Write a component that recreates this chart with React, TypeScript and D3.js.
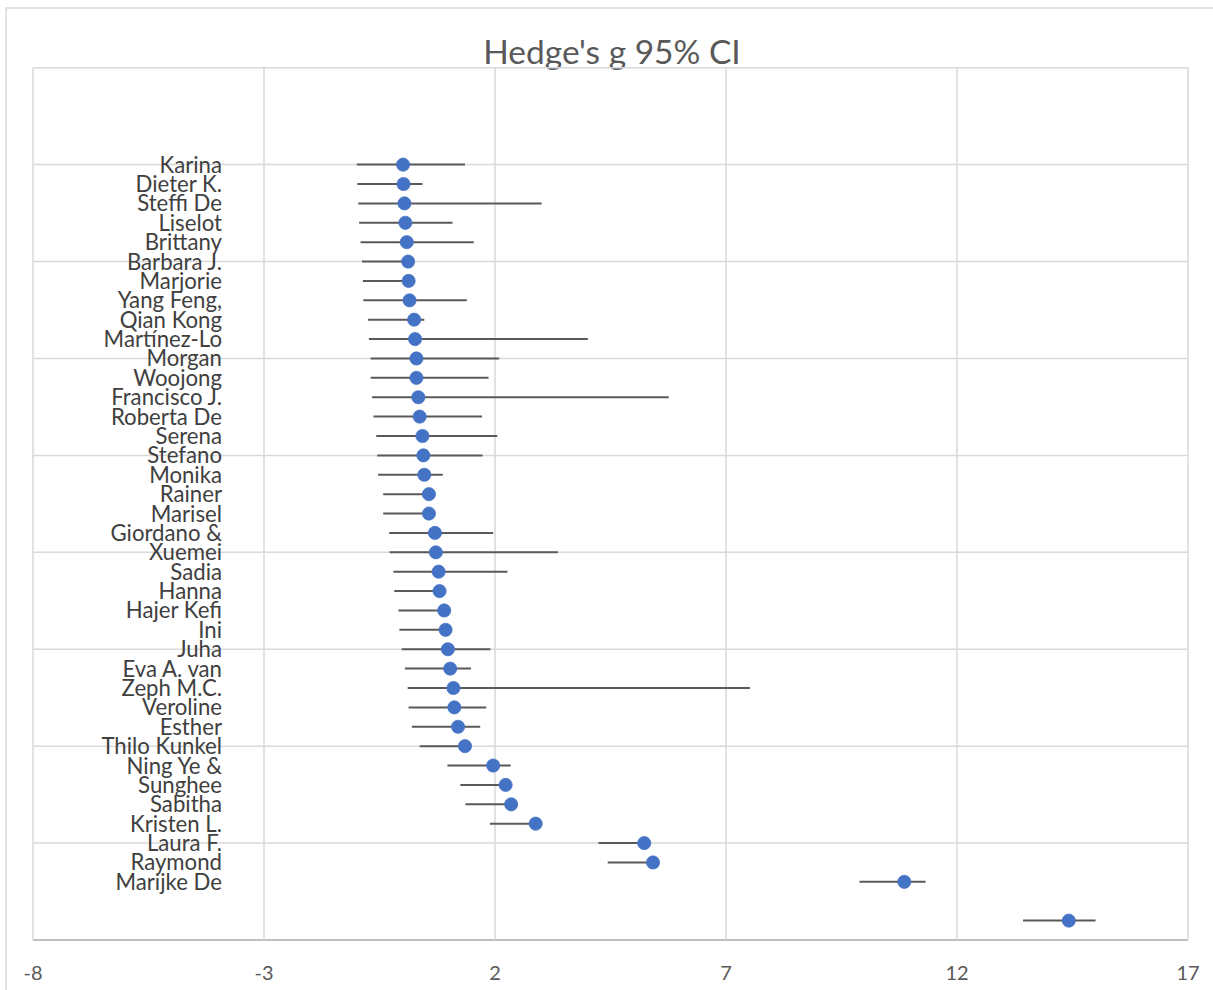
import React from "react";
import * as d3 from "d3";

const title = "Hedge's g 95% CI";

const studies = [
  "Karina", "Dieter K.", "Steffi De", "Liselot", "Brittany", "Barbara J.", "Marjorie",
  "Yang Feng,", "Qian Kong", "Martínez-Lo", "Morgan", "Woojong", "Francisco J.",
  "Roberta De", "Serena", "Stefano", "Monika", "Rainer", "Marisel", "Giordano &",
  "Xuemei", "Sadia", "Hanna", "Hajer Kefi", "Ini", "Juha", "Eva A. van", "Zeph M.C.",
  "Veroline", "Esther", "Thilo Kunkel", "Ning Ye &", "Sunghee", "Sabitha", "Kristen L.",
  "Laura F.", "Raymond", "Marijke De", "",
];

const rowPos = [
  40, 39, 38, 37, 36, 35, 34, 33, 32, 31, 30, 29, 28, 27, 26, 25, 24, 23, 22, 21,
  20, 19, 18, 17, 16, 15, 14, 13, 12, 11, 10, 9, 8, 7, 6, 5, 4, 3, 1,
];

const hedgesG = [
  0.01, 0.02, 0.04, 0.06, 0.09, 0.12, 0.13, 0.15, 0.25, 0.27, 0.3, 0.3, 0.34,
  0.37, 0.43, 0.45, 0.47, 0.57, 0.57, 0.7, 0.72, 0.78, 0.8, 0.9, 0.93, 0.98,
  1.03, 1.1, 1.12, 1.2, 1.35, 1.96, 2.23, 2.35, 2.88, 5.23, 5.42, 10.86, 14.42,
];

const ciLow = [
  -0.99, -0.98, -0.96, -0.94, -0.91, -0.88, -0.86, -0.85, -0.75, -0.73, -0.69, -0.69, -0.66,
  -0.63, -0.57, -0.55, -0.53, -0.42, -0.42, -0.29, -0.28, -0.2, -0.18, -0.09, -0.07, -0.02,
  0.05, 0.11, 0.13, 0.2, 0.37, 0.97, 1.25, 1.36, 1.89, 4.24, 4.44, 9.89, 13.43,
];

const ciHigh = [
  1.35, 0.43, 3.01, 1.08, 1.54, 0.12, 0.13, 1.39, 0.47, 4.01, 2.09, 1.86, 5.76,
  1.72, 2.05, 1.73, 0.87, 0.57, 0.57, 1.96, 3.36, 2.27, 0.8, 0.9, 0.93, 1.9,
  1.48, 7.52, 1.81, 1.68, 1.35, 2.34, 2.23, 2.35, 3.02, 5.23, 5.42, 11.32, 15.0,
];

const xTicks = [-8, -3, 2, 7, 12, 17];
const yGrid = [0, 5, 10, 15, 20, 25, 30, 35, 40, 45];

const W = 1213;
const H = 990;
const FONT = "Lato, 'Open Sans', sans-serif";

export default function App() {
  const x = d3.scaleLinear().domain([-8, 17]).range([33, 1188]);
  const y = d3.scaleLinear().domain([0, 45]).range([940, 67.7]);

  const rows = studies.map((name, i) => ({
    name,
    pos: rowPos[i],
    g: hedgesG[i],
    lo: ciLow[i],
    hi: ciHigh[i],
  }));

  return (
    <svg
      width={W}
      height={H}
      style={{ position: "absolute", left: 0, top: 0, background: "#fff" }}
      fontFamily={FONT}
    >
      <rect x={6} y={8} width={W + 10} height={H + 10} fill="#fff" stroke="#d9d9d9" strokeWidth={1.5} />
      <text x={612} y={64} textAnchor="middle" fontSize={33.5} fill="#595959">
        {title}
      </text>
      {/* horizontal grid */}
      {yGrid.map((v) => (
        <line
          key={"h" + v}
          x1={x(-8)}
          x2={x(17)}
          y1={y(v)}
          y2={y(v)}
          stroke={v === 0 ? "#bfbfbf" : "#d9d9d9"}
          strokeWidth={v === 0 ? 2 : 1.5}
        />
      ))}
      {/* vertical grid */}
      {xTicks.map((t) => (
        <line key={"v" + t} x1={x(t)} x2={x(t)} y1={y(45)} y2={y(0)} stroke="#d9d9d9" strokeWidth={1.5} />
      ))}
      {/* x tick labels */}
      {xTicks.map((t) => (
        <text key={"t" + t} x={x(t)} y={980} textAnchor="middle" fontSize={20} fill="#595959">
          {t}
        </text>
      ))}
      {/* labels */}
      {rows.map((r, i) =>
        r.name ? (
          <text
            key={"l" + i}
            x={222}
            y={y(r.pos) + 8}
            textAnchor="end"
            fontSize={22.2}
            fill="#404040"
          >
            {r.name}
          </text>
        ) : null
      )}
      {/* CI bars */}
      {rows.map((r, i) => (
        <line
          key={"e" + i}
          x1={x(r.lo)}
          x2={x(r.hi)}
          y1={y(r.pos)}
          y2={y(r.pos)}
          stroke="#595959"
          strokeWidth={2}
        />
      ))}
      {/* points */}
      {rows.map((r, i) => (
        <circle key={"p" + i} cx={x(r.g)} cy={y(r.pos)} r={6.6} fill="#4472C4" stroke="#4472C4" strokeWidth={0.75} />
      ))}
    </svg>
  );
}
